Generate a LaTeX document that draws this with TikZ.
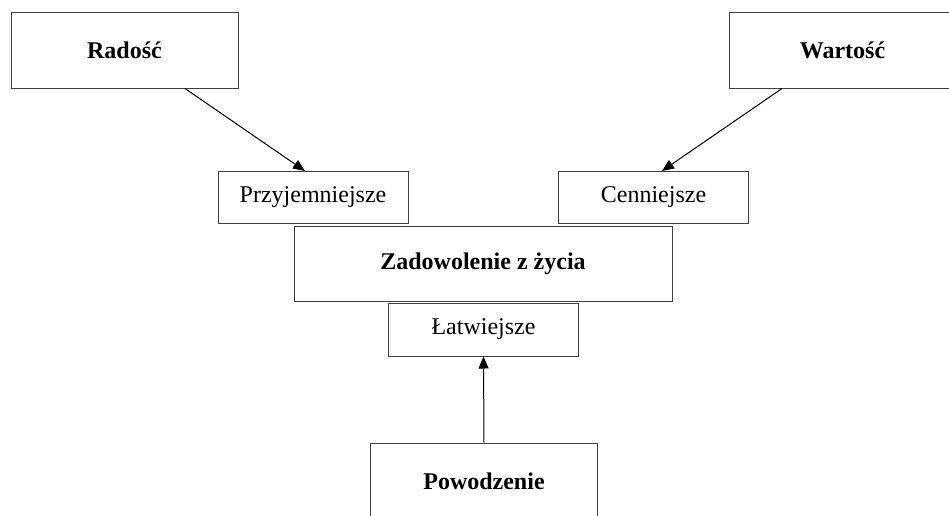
\documentclass[tikz,border=0pt]{standalone}
\usepackage{fontspec}
\setmainfont{Liberation Serif}
\usepackage{tikz}
\usetikzlibrary{arrows.meta,calc}

\begin{document}
\begin{tikzpicture}[
    x=0.5pt, y=-0.5pt,
    box/.style={rectangle, draw=black!75, line width=0.5pt, inner sep=0pt, font=\fontsize{12}{14}\selectfont, align=center},
    bigbox/.style={box, minimum width=113.5pt, minimum height=38pt, font=\fontsize{12}{14}\selectfont\bfseries},
    smallbox/.style={box, minimum width=95pt, minimum height=26pt},
    arrow/.style={-{Triangle[length=6pt,width=5pt]}, line width=0.5pt}
]
    \useasboundingbox (0,0) rectangle (949,515);
    \clip (0,0) rectangle (949,515);

    % upper row
    \node[bigbox] (rad) at (124.5,50) {Radość};
    \node[bigbox] (war) at (842.5,50) {Wartość};

    % middle
    \node[smallbox] (prz) at (313,197.5) {Przyjemniejsze};
    \node[smallbox] (cen) at (653.5,197.5) {Cenniejsze};
    \node[bigbox, minimum width=189pt, minimum height=37.5pt] (zad) at (483,263.5) {Zadowolenie z życia};
    \node[smallbox, minimum height=26.5pt] (lat) at (483.5,329.5) {Łatwiejsze};

    % bottom
    \node[bigbox] (pow) at (484,481) {Powodzenie};

    \draw[arrow] ($(rad.south)+(60.5,0)$) -- ($(prz.north)+(-8,0)$);
    \draw[arrow] ($(war.south)+(-60.5,0)$) -- ($(cen.north)+(8.5,0)$);
    \draw[arrow] (pow.north) -- (lat.south);
\end{tikzpicture}
\end{document}
